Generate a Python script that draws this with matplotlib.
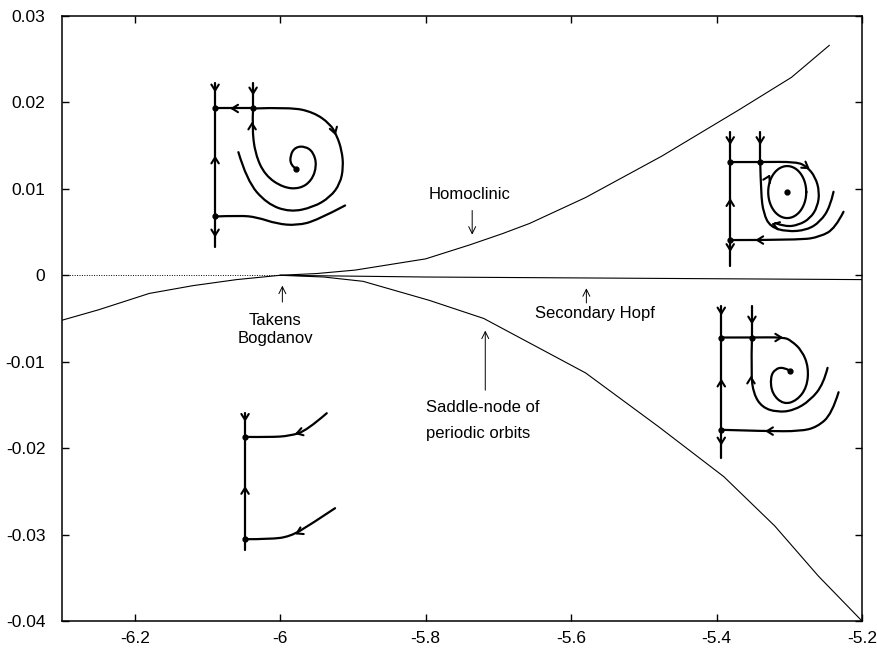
import numpy as np
import matplotlib.pyplot as plt
from matplotlib.transforms import Affine2D
from matplotlib.path import Path
from matplotlib.patches import PathPatch

plt.rcParams['font.family'] = ['Liberation Sans', 'DejaVu Sans']
plt.rcParams['axes.unicode_minus'] = False

# bifurcation curves
homo_x = [-6.0, -5.95, -5.897, -5.8, -5.74, -5.695, -5.657, -5.58, -5.475, -5.37, -5.297, -5.245]
homo_y = [0.0, 0.0002, 0.0006, 0.0019, 0.0035, 0.0048, 0.0060, 0.0090, 0.0138, 0.0191, 0.0229, 0.0266]

sn_x = [-6.3, -6.25, -6.18, -6.12, -6.06, -6.0, -5.94, -5.886, -5.795, -5.72, -5.58, -5.48, -5.39, -5.32, -5.26, -5.2]
sn_y = [-0.0052, -0.0040, -0.0021, -0.0012, -0.0005, 0.0, -0.0002, -0.0007, -0.0029, -0.0050, -0.0113,
        -0.0175, -0.0233, -0.0290, -0.0348, -0.0400]

hopf_x = [-6.0, -5.8, -5.6, -5.4, -5.2]
hopf_y = [0.0, -0.0002, -0.0003, -0.0004, -0.0005]

dotted_x = [-6.3, -6.0]
dotted_y = [0.0, 0.0]

xticks = [-6.2, -6.0, -5.8, -5.6, -5.4, -5.2]
xlabels = ['-6.2', '-6', '-5.8', '-5.6', '-5.4', '-5.2']
yticks = [0.03, 0.02, 0.01, 0.0, -0.01, -0.02, -0.03, -0.04]
ylabels = ['0.03', '0.02', '0.01', '0', '-0.01', '-0.02', '-0.03', '-0.04']

# phase portrait sketches, local pixel units (y down), origin at upper saddle
# upper left
a_vert = [(0, -25), (0, 139)]
a_vert2 = [(38, -25), (38, 0)]
a_top = [(0, 0), (38, 0)]
a_inner = [(38, 0), (37, 18.7), (40, 45.3), (50, 67), (68.3, 79.3), (85, 80.3), (96.7, 72), (101.7, 57),
           (98.3, 43.7), (90, 37.7), (80, 38.7), (75, 47), (75.7, 57), (81, 60.3)]
a_outer = [(38, 0), (75, -1.3), (98.3, 3.7), (115, 15.3), (121.7, 27), (126.7, 42), (128.3, 58.7), (125, 75.3),
           (115, 88.7), (98.3, 98.7), (75, 103.7), (51.7, 95.3), (31.7, 72), (23.3, 43.7)]
a_bottom = [(0, 108), (25, 107), (41.7, 108.7), (61.7, 115.3), (81.7, 117), (101.7, 112), (130, 97)]
a_dots = [(0, 0), (38, 0), (0, 108), (81, 60.3)]
a_arrows = [(0, -18, 0, 1), (0, 49, 0, -1), (0, 127, 0, 1), (38, -15, 0, 1), (17, 0, -1, 0),
            (37, 15, 0, -1), (120, 25, 0.3, 1)]

# upper right
b_vert = [(0, -30), (0, 104)]
b_vert2 = [(30, -30), (30, 0)]
b_top = [(0, 0), (30, 0), (66.7, -0.3), (76.7, 4.7), (85, 14.7), (89.3, 29.7), (87.3, 44.7), (80, 56.3),
         (68.3, 63), (55, 64.7), (45, 61)]
b_mid = [(30, 0), (30.7, 31.3), (33.3, 51.3), (40, 64.7), (56.7, 69.7), (76.7, 68), (90, 59.7), (100, 44.7),
         (103.3, 29.7)]
b_bottom = [(113.3, 49.7), (105, 66.3), (90, 74.7), (70, 78), (0, 78)]
b_cycle = (57, 30, 19, 26)
b_dots = [(0, 0), (30, 0), (0, 78), (57, 30)]
b_arrows = [(0, -19, 0, 1), (0, 38, 0, -1), (0, 88, 0, 1), (30, -19, 0, 1), (78, 6, 1, 0.7),
            (43, 62, -1, -0.3), (27, 78, -1, 0), (39, 14, 0.5, -1)]

# lower right
c_vert = [(0, -32), (0, 120)]
c_vert2 = [(30.7, -32), (30.7, 0)]
c_top = [(0, 0), (30.7, 0), (62.3, -0.3), (69.7, 3), (80.7, 13), (87.3, 29.7), (85.7, 49.7), (75.7, 63),
         (62.3, 67), (50.7, 56.3), (49, 39.7), (54, 31.3), (62.3, 29.7), (68.3, 33)]
c_mid = [(30.7, 0), (29.7, 36.3), (32.3, 56.3), (40.7, 69.7), (55.7, 74.7), (72.3, 73), (89, 63),
         (102.3, 46.3), (106.3, 30.3)]
c_bottom = [(117.3, 54.7), (110.7, 76.3), (95.7, 89.7), (79, 93.7), (45.7, 93.7), (0, 92.3)]
c_dots = [(0, 0), (30.7, 0), (0, 92.3), (68.3, 33)]
c_arrows = [(0, -24, 0, 1), (0, 43, 0, -1), (0, 106, 0, 1), (30.7, -15, 0, 1), (60, 0, 1, 0),
            (29.7, 40, 0, -1), (45.7, 93.6, -1, 0)]

# lower left
d_vert = [(0, -24), (0, 113)]
d_top = [(0, 0), (25, 0.3), (45, -1), (61.7, -6.3), (81.7, -23.7)]
d_bottom = [(0, 102.3), (25, 102.3), (45, 99.7), (65, 88), (90, 71.3)]
d_dots = [(0, 0), (0, 102.3)]
d_arrows = [(0, -17, 0, 1), (0, 51, 0, -1), (51.7, -3.5, -1, 0.3), (51.7, 96.5, -1, 0.5)]

fig = plt.figure(figsize=(8.78, 6.5), dpi=100)
ax = fig.add_axes([62 / 878, 1 - 621 / 650, 800 / 878, 605 / 650])

ax.plot(homo_x, homo_y, color='k', lw=0.8)
ax.plot(sn_x, sn_y, color='k', lw=0.8)
ax.plot(hopf_x, hopf_y, color='k', lw=0.8)
ax.plot(dotted_x, dotted_y, color='k', lw=0.7, linestyle=(0, (1, 1.5)))

ax.set_xlim(-6.3, -5.2)
ax.set_ylim(-0.04, 0.03)
ax.set_xticks(xticks)
ax.set_xticklabels(xlabels)
ax.set_yticks(yticks)
ax.set_yticklabels(ylabels)
ax.tick_params(direction='in', top=True, right=True, length=5, width=1, labelsize=12.5)
ax.tick_params(axis='x', pad=7)
ax.tick_params(axis='y', pad=12)
for sp in ax.spines.values():
    sp.set_linewidth(1.1)

# labels
arr = dict(arrowstyle='->,head_length=0.5,head_width=0.25', lw=0.7, color='k', shrinkA=0, shrinkB=0)
fs = 12
ax.text(-5.739, 0.0094, 'Homoclinic', ha='center', va='center', fontsize=fs)
ax.annotate('', xy=(-5.736, 0.0047), xytext=(-5.736, 0.0075), arrowprops=arr)
ax.text(-6.007, -0.0052, 'Takens', ha='center', va='center', fontsize=fs)
ax.text(-6.007, -0.0073, 'Bogdanov', ha='center', va='center', fontsize=fs)
ax.annotate('', xy=(-5.997, -0.0012), xytext=(-5.997, -0.0031), arrowprops=arr)
ax.text(-5.567, -0.0044, 'Secondary Hopf', ha='center', va='center', fontsize=fs)
ax.annotate('', xy=(-5.579, -0.0015), xytext=(-5.579, -0.0032), arrowprops=arr)
ax.text(-5.799, -0.0153, 'Saddle-node of', ha='left', va='center', fontsize=fs)
ax.text(-5.799, -0.0183, 'periodic orbits', ha='left', va='center', fontsize=fs)
ax.annotate('', xy=(-5.718, -0.0064), xytext=(-5.718, -0.0133), arrowprops=arr)


def smooth_path(pts):
    # quadratic bezier through the midpoints, so hand drawn curves stay round
    pts = np.asarray(pts, float)
    if len(pts) < 3:
        return Path(pts)
    verts = [pts[0]]
    codes = [Path.MOVETO]
    for i in range(1, len(pts) - 1):
        end = pts[i + 1] if i == len(pts) - 2 else (pts[i] + pts[i + 1]) / 2
        verts += [pts[i], end]
        codes += [Path.CURVE3, Path.CURVE3]
    return Path(verts, codes)


def draw_sketch(anchor, curves, dots, arrows, cycle=None):
    X, Y = ax.transData.transform(anchor)
    tr = Affine2D().scale(1, -1).translate(X, Y)
    for c in curves:
        ax.add_patch(PathPatch(smooth_path(c), fill=False, edgecolor='k', lw=1.6,
                               transform=tr, capstyle='round', joinstyle='round'))
    if cycle is not None:
        cx, cy, rx, ry = cycle
        t = np.linspace(0, 2 * np.pi, 100)
        ax.plot(cx + rx * np.cos(t), cy + ry * np.sin(t), color='k', lw=1.6, transform=tr)
    for x, y in dots:
        ax.plot(x, y, 'o', color='k', ms=3.5, transform=tr)
    for x, y, dx, dy in arrows:
        ang = np.arctan2(dy, dx)
        for s in (1, -1):
            a = ang + np.pi + s * np.radians(32)
            ax.plot([x, x + 7 * np.cos(a)], [y, y + 7 * np.sin(a)], color='k', lw=1.5,
                    transform=tr, solid_capstyle='round')


draw_sketch((-6.0895, 0.0193), [a_vert, a_vert2, a_top, a_inner, a_outer, a_bottom], a_dots, a_arrows)
draw_sketch((-5.3812, 0.0131), [b_vert, b_vert2, b_top, b_mid, b_bottom], b_dots, b_arrows, b_cycle)
draw_sketch((-5.3935, -0.0072), [c_vert, c_vert2, c_top, c_mid, c_bottom], c_dots, c_arrows)
draw_sketch((-6.0483, -0.0187), [d_vert, d_top, d_bottom], d_dots, d_arrows)

fig.savefig('out.png', dpi=100)
